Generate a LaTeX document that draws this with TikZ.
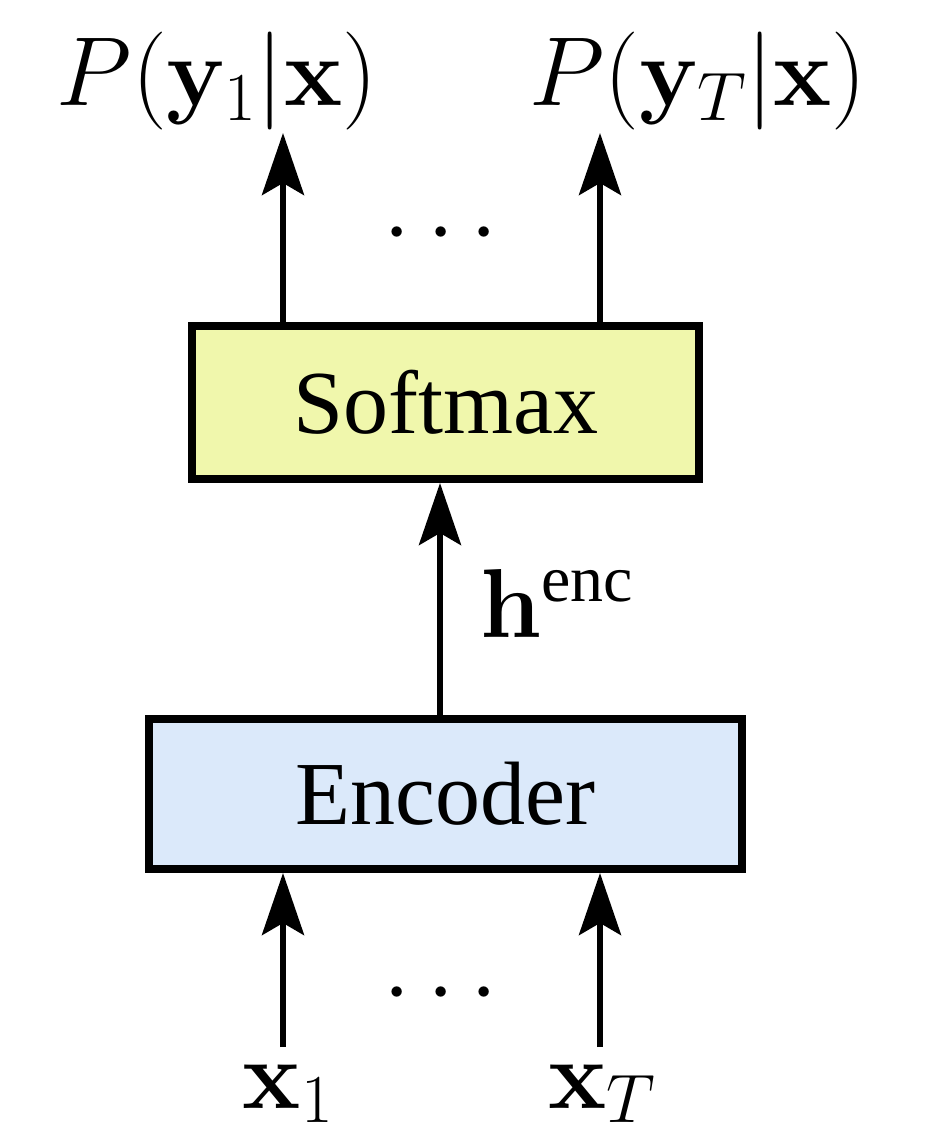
\RequirePackage{fix-cm}
\documentclass[tikz,border=0pt]{standalone}
\usepackage[no-math]{fontspec}
\setmainfont{Liberation Serif}
\usetikzlibrary{arrows.meta}
\definecolor{smfill}{RGB}{240,247,172}
\definecolor{encfill}{RGB}{219,233,250}
\tikzset{
  box/.style={draw=black, line width=8pt, inner sep=0pt, anchor=north west},
  arr/.style={line width=6pt, -{Stealth[length=62pt,width=42pt,inset=12pt]}},
  mlab/.style={inner sep=0pt, anchor=base, font=\fontsize{98}{110}\selectfont},
  tlab/.style={inner sep=0pt, font=\fontsize{90}{100}\selectfont},
}
\begin{document}
\begin{tikzpicture}[x=1pt,y=-1pt]
\useasboundingbox[fill=white] (0,0) rectangle (936,1134);
% boxes
\node[box, fill=smfill, minimum width=507pt, minimum height=153pt] (sm) at (188,322) {};
\node[tlab] at (sm.center) {Softmax};
\node[box, fill=encfill, minimum width=593pt, minimum height=150pt] (enc) at (145,715) {};
\node[tlab] at (enc.center) {Encoder};
% labels
\node[mlab] (py1) at (217,106) {$P(\mathbf{y}_1|\mathbf{x})$};
\node[mlab] (pyT) at (698,106) {$P(\mathbf{y}_T|\mathbf{x})$};
\node[mlab] (x1) at (288,1108) {$\mathbf{x}_1$};
\node[mlab] (xT) at (602,1108) {$\mathbf{x}_T$};
\node[mlab, anchor=base west] (h) at (480,637) {$\mathbf{h}^{\mbox{\fontsize{66}{72}\selectfont enc}}$};
\node[mlab] (dtop) at (441,256) {$\cdots$};
\node[mlab] (dbot) at (441,1016) {$\cdots$};
% arrow ends
\coordinate (t1) at (283,133);
\coordinate (tT) at (600,133);
\coordinate (b1) at (283,1047);
\coordinate (bT) at (600,1047);
% arrows
\draw[arr] (sm.north -| t1) -- (t1);
\draw[arr] (sm.north -| tT) -- (tT);
\draw[arr] (enc.north -| 440,0) -- (sm.south -| 440,0);
\draw[arr] (b1) -- (enc.south -| b1);
\draw[arr] (bT) -- (enc.south -| bT);
\end{tikzpicture}
\end{document}
